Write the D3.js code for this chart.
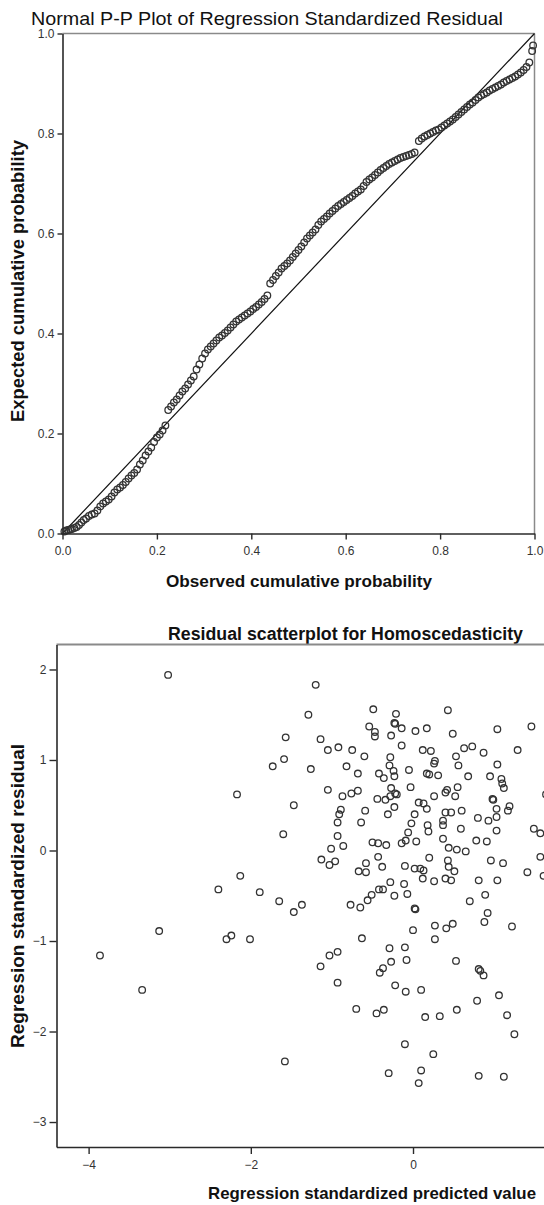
<!DOCTYPE html>
<html><head><meta charset="utf-8">
<script src="https://cdn.jsdelivr.net/npm/d3@7"></script>
<style>
body{margin:0;background:#fff;}
svg{display:block;font-family:"Liberation Sans",Arial,sans-serif;}
</style></head><body>
<svg id="c" width="544" height="1205"></svg>
<script>
// ---------- P-P plot data ----------
const ppObserved = [0.004,0.008,0.012,0.016,0.020,0.025,0.030,0.035,0.040,0.045,0.050,0.056,0.062,0.068,0.074,0.080,0.086,0.092,0.098,0.104,0.110,0.116,0.122,0.128,0.134,0.140,0.146,0.152,0.158,0.164,0.170,0.176,0.182,0.188,0.194,0.200,0.206,0.212,0.218,
0.224,0.230,0.236,0.242,0.248,0.254,0.260,0.266,0.272,0.278,0.284,0.290,0.296,0.302,0.308,0.314,0.320,0.326,0.332,0.338,0.344,0.350,0.356,0.362,0.368,0.374,0.380,0.386,0.392,0.398,0.404,0.410,0.416,0.422,0.428,0.434,
0.440,0.446,0.452,0.458,0.464,0.470,0.476,0.482,0.488,0.494,0.500,0.506,0.512,0.518,0.524,0.530,0.536,0.542,0.548,0.554,0.560,0.566,0.572,0.578,0.584,0.590,0.596,0.602,0.608,0.614,0.620,0.626,0.632,0.638,0.644,0.650,0.656,0.662,0.668,0.674,0.680,0.686,0.692,0.698,0.704,0.710,0.716,0.722,0.728,0.734,0.740,0.746,
0.755,0.761,0.767,0.773,0.779,0.785,0.791,0.797,0.803,0.809,0.815,0.821,0.827,0.833,0.839,0.845,0.851,0.857,0.863,0.869,0.875,0.881,0.887,0.893,0.899,0.905,0.911,0.917,0.923,0.929,0.935,0.941,0.947,0.953,0.959,0.965,0.971,0.977,0.983,0.989,0.995,0.997];
const ppExpected = [0.004,0.006,0.007,0.008,0.009,0.011,0.013,0.017,0.022,0.027,0.030,0.035,0.038,0.040,0.046,0.054,0.060,0.064,0.068,0.074,0.082,0.088,0.092,0.097,0.103,0.110,0.116,0.121,0.128,0.138,0.146,0.156,0.164,0.172,0.183,0.192,0.198,0.206,0.216,
0.247,0.254,0.262,0.268,0.276,0.284,0.290,0.298,0.306,0.314,0.328,0.338,0.350,0.360,0.368,0.374,0.380,0.386,0.392,0.396,0.401,0.406,0.412,0.418,0.424,0.428,0.432,0.436,0.440,0.444,0.449,0.453,0.458,0.463,0.469,0.476,
0.500,0.507,0.515,0.522,0.530,0.535,0.540,0.546,0.553,0.560,0.567,0.574,0.582,0.590,0.596,0.602,0.608,0.617,0.624,0.629,0.634,0.640,0.645,0.650,0.655,0.659,0.663,0.667,0.671,0.675,0.680,0.684,0.688,0.695,0.703,0.708,0.712,0.717,0.722,0.727,0.731,0.735,0.739,0.742,0.745,0.748,0.751,0.753,0.755,0.757,0.759,0.762,
0.785,0.790,0.794,0.797,0.800,0.803,0.806,0.808,0.812,0.816,0.820,0.824,0.828,0.833,0.838,0.843,0.848,0.853,0.858,0.862,0.867,0.872,0.876,0.879,0.882,0.886,0.889,0.892,0.895,0.898,0.902,0.905,0.908,0.911,0.914,0.918,0.922,0.927,0.933,0.942,0.965,0.976];
const ppTicks = [0.0,0.2,0.4,0.6,0.8,1.0];
const ppTitle = "Normal P-P Plot of Regression Standardized Residual";
const ppXLabel = "Observed cumulative probability";
const ppYLabel = "Expected cumulative probability";

// ---------- Residual scatter data ----------
const predValues = [-3.02,-1.57,-1.59,-1.73,-2.17,-1.47,-1.60,-2.13,-2.40,-1.89,-1.65,-1.47,-1.37,-3.13,-2.30,-2.24,-2.01,-3.86,-3.34,-1.58,
-1.20,-1.29,-0.49,-0.21,-0.23,-0.22,0.43,-0.54,-0.47,-0.47,-0.27,-0.14,0.03,0.17,0.49,1.04,1.46,-1.26,-1.14,-1.05,
-0.92,-0.75,-0.60,-0.82,-0.68,-0.14,-0.28,-0.29,-0.24,-0.23,-0.42,-0.36,-0.05,0.12,0.22,0.27,0.26,0.17,0.20,0.31,
0.53,0.63,0.73,0.87,0.56,0.68,1.04,0.95,1.09,1.10,1.12,1.29,-1.05,-0.87,-0.76,-0.68,-0.44,-0.34,-0.27,-0.22,
-0.20,-0.28,-0.03,0.26,0.40,0.42,0.52,0.55,0.07,0.13,0.17,0.98,0.99,1.03,1.19,1.17,-0.89,-0.91,-0.93,-0.59,
-0.64,-0.23,-0.31,0.02,-0.02,0.40,0.47,0.60,0.37,0.37,0.18,0.19,0.80,0.93,1.03,0.59,1.03,1.49,1.57,-0.06,
-0.93,-1.01,-0.86,-0.50,-0.43,-0.33,-0.14,-0.09,0.04,0.37,0.44,0.54,0.65,0.78,0.91,-1.13,-1.03,-0.96,-0.43,-0.58,
0.20,0.96,1.11,1.57,1.64,-0.58,-0.67,-0.38,-0.10,0.02,0.09,0.13,0.12,0.26,0.43,0.44,0.51,0.40,0.47,1.41,
1.61,0.81,1.04,0.89,0.70,0.92,0.88,1.22,-0.77,-0.65,-0.56,-0.51,-0.42,-0.37,-0.28,-0.23,-0.11,-0.07,0.02,0.03,
0.27,0.41,0.49,0.27,0.00,-0.63,-0.29,-0.10,-0.08,-0.27,-0.37,-0.41,-0.93,-1.03,-1.14,-0.93,-0.22,-0.09,0.10,0.53,
0.81,0.83,0.87,1.06,0.79,0.54,0.33,0.15,1.16,1.25,-0.70,-0.45,-0.36,-0.10,0.25,-0.30,0.10,0.07,0.81,1.12];
const residValues = [1.94,1.25,1.01,0.93,0.62,0.50,0.18,-0.28,-0.43,-0.46,-0.56,-0.68,-0.60,-0.89,-0.98,-0.94,-0.98,-1.16,-1.54,-2.33,
1.83,1.50,1.56,1.51,1.41,1.40,1.55,1.37,1.31,1.26,1.27,1.35,1.32,1.35,1.29,1.34,1.37,0.90,1.23,1.11,
1.14,1.11,1.04,0.93,0.85,1.16,1.03,0.94,0.88,0.82,0.85,0.80,0.89,1.11,1.10,0.99,0.96,0.85,0.84,0.83,
1.04,1.13,1.15,1.08,0.94,0.82,0.95,0.82,0.79,0.74,0.69,1.11,0.67,0.60,0.63,0.66,0.57,0.56,0.69,0.63,
0.62,0.60,0.70,0.60,0.64,0.67,0.60,0.70,0.53,0.52,0.46,0.57,0.56,0.46,0.49,0.44,0.45,0.40,0.31,0.44,
0.31,0.48,0.40,0.40,0.30,0.42,0.42,0.44,0.33,0.28,0.28,0.21,0.36,0.33,0.37,0.24,0.22,0.24,0.19,0.20,
0.16,0.02,0.05,0.09,0.08,0.06,0.08,0.11,0.10,0.13,0.03,0.01,-0.01,0.11,0.10,-0.10,-0.16,-0.12,-0.07,-0.14,
-0.08,-0.11,-0.14,-0.07,0.62,-0.24,-0.23,-0.18,-0.17,-0.20,-0.20,-0.22,-0.31,-0.34,-0.11,-0.18,-0.23,-0.31,-0.33,-0.24,
-0.28,-0.33,-0.33,-0.49,-0.56,-0.69,-0.79,-0.84,-0.60,-0.63,-0.55,-0.49,-0.43,-0.43,-0.35,-0.50,-0.37,-0.48,-0.64,-0.65,
-0.83,-0.86,-0.81,-0.98,-0.88,-0.97,-1.08,-1.07,-1.21,-1.23,-1.30,-1.35,-1.12,-1.16,-1.28,-1.46,-1.49,-1.56,-1.54,-1.22,
-1.31,-1.33,-1.38,-1.60,-1.66,-1.76,-1.83,-1.84,-1.82,-2.03,-1.75,-1.80,-1.76,-2.14,-2.25,-2.46,-2.43,-2.57,-2.49,-2.50];
const scXTicks = [-4,-2,0];
const scYTicks = [2,1,0,-1,-2,-3];
const scTitle = "Residual scatterplot for Homoscedasticity";
const scXLabel = "Regression standardized predicted value";
const scYLabel = "Regression standardized residual";

const svg = d3.select("#c");
const axisColor = "#2a2a2a", frameColor = "#8a8a8a", ptColor = "#333";

// ===== P-P plot =====
const pp = {l:62.5, r:534.5, t:33.5, b:533.5};
const px = d3.scaleLinear().domain([0,1]).range([pp.l, pp.r]);
const py = d3.scaleLinear().domain([0,1]).range([pp.b, pp.t]);

svg.append("text").attr("x",31).attr("y",25).attr("font-size",18.5).attr("fill","#111")
  .attr("textLength",472).attr("lengthAdjust","spacingAndGlyphs").text(ppTitle);

// frame top/right
svg.append("line").attr("x1",pp.l).attr("x2",pp.r).attr("y1",pp.t).attr("y2",pp.t)
  .attr("stroke",frameColor).attr("stroke-width",1.5);
svg.append("line").attr("x1",pp.r).attr("x2",pp.r).attr("y1",pp.t).attr("y2",pp.b)
  .attr("stroke",frameColor).attr("stroke-width",1.5);

// diagonal
svg.append("line").attr("x1",px(0)).attr("y1",py(0)).attr("x2",px(1)).attr("y2",py(1))
  .attr("stroke","#111").attr("stroke-width",1.2);

const ppData = ppObserved.map((d,i)=>({x:d,y:ppExpected[i]}));
svg.append("g").selectAll("circle").data(ppData).join("circle")
  .attr("cx",d=>px(d.x)).attr("cy",d=>py(d.y)).attr("r",3.3)
  .attr("fill","none").attr("stroke",ptColor).attr("stroke-width",1.3);

function styleAxis(g){
  g.select(".domain").attr("stroke",axisColor).attr("stroke-width",1.6);
  g.selectAll(".tick line").attr("stroke",axisColor).attr("stroke-width",1.4);
  g.selectAll(".tick text").attr("fill","#333").attr("font-size",12)
    .attr("font-family","'Liberation Sans',Arial,sans-serif");
}
svg.append("g").attr("transform",`translate(${pp.l},0)`)
  .call(d3.axisLeft(py).tickValues(ppTicks).tickSize(5).tickPadding(3).tickFormat(d3.format(".1f")).tickSizeOuter(0))
  .call(styleAxis);
svg.append("g").attr("transform",`translate(0,${pp.b})`)
  .call(d3.axisBottom(px).tickValues(ppTicks).tickSize(6).tickPadding(7).tickFormat(d3.format(".1f")).tickSizeOuter(0))
  .call(styleAxis);

svg.append("text").attr("x",166).attr("y",587).attr("font-size",17).attr("font-weight","bold").attr("fill","#111")
  .attr("textLength",266).attr("lengthAdjust","spacingAndGlyphs").text(ppXLabel);
svg.append("text").attr("transform","translate(24,281) rotate(-90)").attr("text-anchor","middle")
  .attr("font-size",17.5).attr("font-weight","bold").attr("fill","#111")
  .attr("textLength",282).attr("lengthAdjust","spacingAndGlyphs").text(ppYLabel);

// ===== Residual scatter =====
const sc = {l:56.5, t:644.5, b:1147};
const sx = d3.scaleLinear().domain([-4.396, 2.5]).range([sc.l, sc.l + 6.896*81.1]);
const sy = d3.scaleLinear().domain([-3.276, 2.276]).range([sc.b, sc.t]);

svg.append("text").attr("x",168).attr("y",640).attr("font-size",18).attr("font-weight","bold").attr("fill","#111")
  .attr("textLength",355).attr("lengthAdjust","spacingAndGlyphs").text(scTitle);

svg.append("line").attr("x1",sc.l).attr("x2",544).attr("y1",sc.t).attr("y2",sc.t)
  .attr("stroke",frameColor).attr("stroke-width",2);

const scData = predValues.map((d,i)=>({x:d,y:residValues[i]}));
svg.append("g").selectAll("circle").data(scData).join("circle")
  .attr("cx",d=>sx(d.x)).attr("cy",d=>sy(d.y)).attr("r",3.3)
  .attr("fill","none").attr("stroke",ptColor).attr("stroke-width",1.3);

svg.append("g").attr("transform",`translate(${sc.l},0)`)
  .call(d3.axisLeft(sy).tickValues(scYTicks).tickSize(7).tickPadding(3).tickFormat(d3.format("d")).tickSizeOuter(0))
  .call(styleAxis);
svg.append("g").attr("transform",`translate(0,${sc.b})`)
  .call(d3.axisBottom(sx).tickValues(scXTicks).tickSize(7).tickPadding(6).tickFormat(d3.format("d")).tickSizeOuter(0))
  .call(styleAxis);

svg.append("text").attr("x",208).attr("y",1199).attr("font-size",17).attr("font-weight","bold").attr("fill","#111")
  .attr("textLength",328).attr("lengthAdjust","spacingAndGlyphs").text(scXLabel);
svg.append("text").attr("transform","translate(24,896) rotate(-90)").attr("text-anchor","middle")
  .attr("font-size",17.5).attr("font-weight","bold").attr("fill","#111")
  .attr("textLength",304).attr("lengthAdjust","spacingAndGlyphs").text(scYLabel);
</script>
</body></html>
